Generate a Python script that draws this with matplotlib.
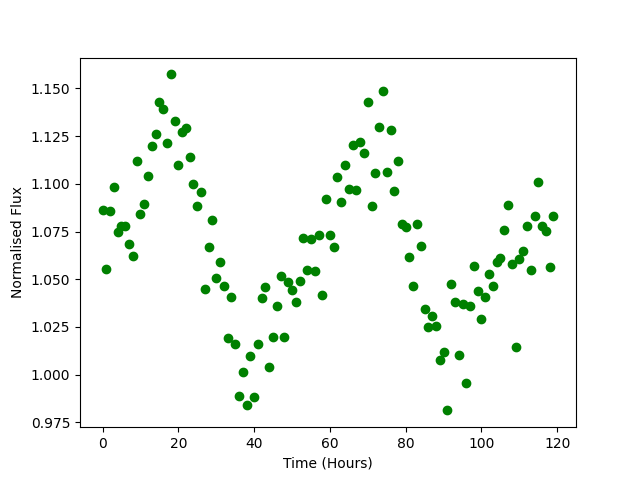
import matplotlib
matplotlib.use("Agg")
import matplotlib.pyplot as plt
import numpy as np

hours = list(range(120))
flux = [1.0861, 1.0552, 1.0856, 1.0981, 1.0746, 1.0777, 1.0777, 1.0683, 1.0620, 1.1118,
        1.0840, 1.0892, 1.1039, 1.1196, 1.1259, 1.1427, 1.1390, 1.1212, 1.1573, 1.1327,
        1.1097, 1.1269, 1.1290, 1.1138, 1.0997, 1.0882, 1.0955, 1.0447, 1.0667, 1.0808,
        1.0504, 1.0588, 1.0463, 1.0190, 1.0405, 1.0159, 0.9886, 1.0012, 0.9840, 1.0096,
        0.9881, 1.0159, 1.0400, 1.0457, 1.0038, 1.0200, 1.0358, 1.0515, 1.0200, 1.0484,
        1.0442, 1.0379, 1.0489, 1.0714, 1.0546, 1.0709, 1.0541, 1.0730, 1.0415, 1.0918,
        1.0730, 1.0667, 1.1034, 1.0903, 1.1097, 1.0971, 1.1201, 1.0966, 1.1217, 1.1159,
        1.1427, 1.0882, 1.1055, 1.1296, 1.1484, 1.1060, 1.1280, 1.0960, 1.1118, 1.0787,
        1.0772, 1.0615, 1.0463, 1.0787, 1.0672, 1.0342, 1.0248, 1.0310, 1.0253, 1.0075,
        1.0117, 0.9813, 1.0473, 1.0379, 1.0101, 1.0368, 0.9954, 1.0358, 1.0567, 1.0436,
        1.0290, 1.0405, 1.0525, 1.0463, 1.0588, 1.0610, 1.0756, 1.0887, 1.0578, 1.0143,
        1.0604, 1.0646, 1.0777, 1.0546, 1.0829, 1.1008, 1.0777, 1.0751, 1.0562, 1.0829]

fig = plt.figure(figsize=(6.4, 4.8), dpi=100)
plt.plot(hours, flux, 'go')
plt.xlabel('Time (Hours)')
plt.ylabel('Normalised Flux')
plt.savefig('out.png')
